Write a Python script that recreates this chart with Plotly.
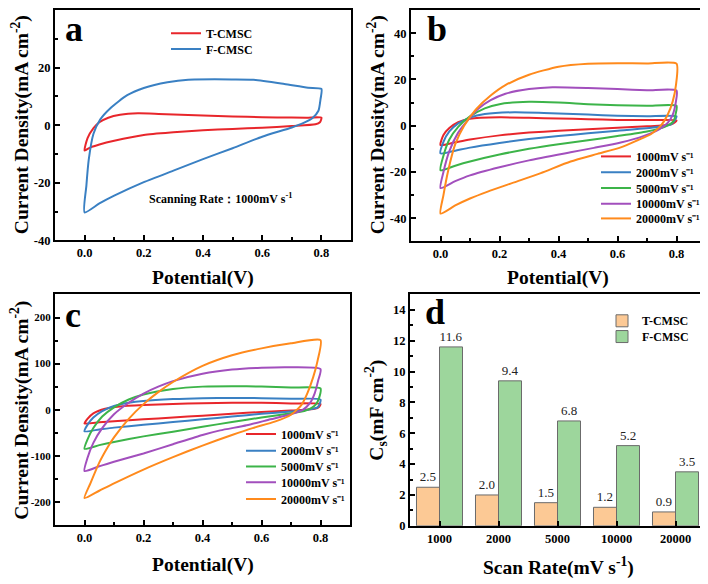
import plotly.graph_objects as go

# ---------------- DATA ----------------
# Panel a (scan rate 1000 mV/s): forward (upper) and reverse (lower) branches
a_T_fwd_v = [0.0, 0.01, 0.03, 0.05, 0.08, 0.12, 0.18, 0.25, 0.35, 0.45, 0.55, 0.65, 0.75, 0.8]
a_T_fwd_j = [-8.8, -4.5, -1.0, 1.0, 2.6, 3.6, 4.1, 3.9, 3.5, 3.2, 2.9, 2.7, 2.6, 2.6]
a_T_rev_v = [0.8, 0.795, 0.78, 0.7, 0.6, 0.5, 0.4, 0.3, 0.2, 0.1, 0.05, 0.02, 0.0]
a_T_rev_j = [2.6, 1.0, 0.3, -0.3, -0.9, -1.3, -1.8, -2.5, -3.4, -5.4, -6.7, -7.7, -8.8]

a_F_fwd_v = [0.0, 0.006, 0.014, 0.03, 0.053, 0.087, 0.144, 0.2, 0.28, 0.35, 0.5, 0.57, 0.675, 0.755, 0.8]
a_F_fwd_j = [-30.3, -21.0, -12.0, -3.0, 2.0, 5.9, 10.4, 12.9, 14.9, 15.8, 15.9, 15.8, 14.3, 13.0, 12.6]
a_F_rev_v = [0.8, 0.797, 0.79, 0.77, 0.74, 0.7, 0.6, 0.5, 0.4, 0.3, 0.2, 0.1, 0.05, 0.0]
a_F_rev_j = [12.6, 9.0, 5.0, 2.5, 0.8, -0.8, -4.0, -8.0, -11.8, -15.8, -19.8, -24.5, -27.2, -30.3]

# Panel b: F-CMSC at different scan rates
rate_names = ["1000mV s⁻¹", "2000mV s⁻¹", "5000mV s⁻¹", "10000mV s⁻¹", "20000mV s⁻¹"]
b_fwd_v = [
    [0.0, 0.01, 0.03, 0.06, 0.1, 0.2, 0.3, 0.4, 0.5, 0.6, 0.7, 0.8],
    [0.0, 0.01, 0.03, 0.06, 0.1, 0.15, 0.25, 0.35, 0.5, 0.6, 0.7, 0.8],
    [0.0, 0.01, 0.03, 0.06, 0.1, 0.15, 0.2, 0.3, 0.4, 0.5, 0.6, 0.7, 0.8],
    [0.0, 0.01, 0.03, 0.06, 0.1, 0.13, 0.17, 0.22, 0.3, 0.38, 0.5, 0.6, 0.7, 0.8],
    [0.0, 0.01, 0.025, 0.05, 0.08, 0.12, 0.17, 0.22, 0.3, 0.4, 0.5, 0.6, 0.7, 0.8],
]
b_fwd_j = [
    [-8.4, -4.0, -1.0, 1.5, 3.0, 3.6, 3.4, 3.1, 2.8, 2.5, 2.4, 2.3],
    [-12.0, -7.0, -2.5, 1.0, 3.5, 5.0, 5.8, 5.5, 4.8, 4.3, 4.1, 4.0],
    [-19.3, -13.0, -6.0, -0.5, 4.0, 7.5, 9.3, 10.3, 10.0, 9.3, 8.8, 8.6, 8.6],
    [-27.0, -20.0, -11.0, -3.0, 3.5, 7.5, 11.0, 13.8, 15.8, 16.6, 16.3, 15.8, 15.3, 15.2],
    [-38.0, -30.0, -20.0, -8.0, 0.0, 7.0, 13.0, 17.5, 22.0, 25.5, 26.8, 27.0, 26.9, 26.8],
]
b_rev_v = [
    [0.8, 0.795, 0.78, 0.7, 0.6, 0.5, 0.4, 0.3, 0.2, 0.1, 0.05, 0.0],
    [0.8, 0.795, 0.78, 0.72, 0.6, 0.5, 0.4, 0.3, 0.2, 0.1, 0.05, 0.0],
    [0.8, 0.797, 0.79, 0.76, 0.7, 0.6, 0.5, 0.4, 0.3, 0.2, 0.1, 0.05, 0.0],
    [0.8, 0.798, 0.787, 0.77, 0.741, 0.69, 0.611, 0.52, 0.441, 0.3, 0.2, 0.1, 0.05, 0.0],
    [0.8, 0.798, 0.787, 0.77, 0.747, 0.713, 0.668, 0.611, 0.532, 0.441, 0.34, 0.25, 0.16, 0.1, 0.05, 0.0],
]
b_rev_j = [
    [2.3, 1.5, 0.5, -0.3, -0.9, -1.5, -2.2, -3.0, -4.2, -6.0, -7.2, -8.4],
    [4.0, 2.5, 0.5, -0.8, -2.2, -3.3, -4.5, -5.8, -7.5, -9.5, -10.8, -12.0],
    [8.6, 5.0, 2.0, -0.5, -2.5, -4.5, -6.3, -8.0, -10.0, -12.5, -15.5, -17.3, -19.3],
    [15.2, 10.4, 4.7, 1.2, -1.6, -4.4, -7.3, -9.6, -11.5, -15.0, -18.0, -21.5, -24.0, -27.0],
    [26.8, 17.4, 10.4, 4.7, 0.0, -3.7, -6.3, -9.4, -12.2, -15.5, -20.5, -24.5, -28.5, -31.5, -34.5, -38.0],
]

# Panel c: T-CMSC at different scan rates
c_fwd_v = [
    [0.0, 0.01, 0.03, 0.07, 0.12, 0.2, 0.3, 0.4, 0.5, 0.6, 0.7, 0.8],
    [0.0, 0.01, 0.03, 0.06, 0.1, 0.15, 0.2, 0.3, 0.4, 0.5, 0.6, 0.7, 0.8],
    [0.0, 0.01, 0.03, 0.06, 0.1, 0.15, 0.2, 0.3, 0.4, 0.5, 0.6, 0.7, 0.8],
    [0.0, 0.01, 0.03, 0.06, 0.1, 0.15, 0.2, 0.25, 0.3, 0.4, 0.5, 0.6, 0.7, 0.8],
    [0.0, 0.02, 0.05, 0.08, 0.1, 0.15, 0.2, 0.25, 0.3, 0.4, 0.5, 0.6, 0.7, 0.8],
]
c_fwd_j = [
    [-30.0, -20.0, -8.0, 2.0, 7.0, 10.0, 12.5, 14.0, 15.0, 15.0, 13.5, 12.0],
    [-47.0, -33.0, -17.0, -3.0, 8.0, 15.0, 19.0, 23.0, 25.0, 25.5, 25.0, 23.5, 22.0],
    [-85.0, -65.0, -40.0, -15.0, 5.0, 22.0, 33.0, 45.0, 50.0, 51.0, 50.0, 48.0, 46.0],
    [-133.0, -105.0, -72.0, -40.0, -10.0, 15.0, 35.0, 50.0, 62.0, 78.0, 87.0, 91.0, 92.0, 88.0],
    [-192.0, -160.0, -115.0, -80.0, -60.0, -20.0, 12.0, 38.0, 60.0, 95.0, 118.0, 133.0, 144.0, 151.0],
]
c_rev_v = [
    [0.8, 0.795, 0.78, 0.7, 0.6, 0.5, 0.4, 0.3, 0.2, 0.1, 0.05, 0.0],
    [0.8, 0.797, 0.79, 0.75, 0.7, 0.6, 0.5, 0.4, 0.3, 0.2, 0.1, 0.05, 0.0],
    [0.8, 0.795, 0.785, 0.77, 0.745, 0.7, 0.6, 0.5, 0.4, 0.3, 0.2, 0.1, 0.05, 0.0],
    [0.8, 0.792, 0.78, 0.764, 0.741, 0.7, 0.63, 0.55, 0.46, 0.4, 0.3, 0.2, 0.1, 0.05, 0.0],
    [0.8, 0.79, 0.775, 0.755, 0.735, 0.7, 0.645, 0.57, 0.5, 0.4, 0.3, 0.2, 0.1, 0.05, 0.0],
]
c_rev_j = [
    [12.0, 6.0, 2.0, -2.0, -5.0, -9.0, -13.0, -17.0, -21.0, -25.0, -27.5, -30.0],
    [22.0, 12.0, 5.0, -1.0, -4.0, -9.0, -15.0, -21.0, -27.0, -33.0, -39.0, -43.0, -47.0],
    [46.0, 25.0, 12.0, 4.0, -3.0, -8.0, -17.0, -27.0, -37.0, -48.0, -58.0, -70.0, -77.0, -85.0],
    [88.0, 63.0, 35.0, 14.0, 0.0, -10.0, -21.0, -34.0, -45.0, -55.0, -75.0, -95.0, -113.0, -123.0, -133.0],
    [151.0, 106.0, 70.0, 35.0, 10.0, -11.0, -26.0, -40.0, -55.0, -78.0, -103.0, -130.0, -160.0, -176.0, -192.0],
]

# Panel d: specific capacitance
d_rates = ["1000", "2000", "5000", "10000", "20000"]
d_T = [2.5, 2.0, 1.5, 1.2, 0.9]
d_F = [11.6, 9.4, 6.8, 5.2, 3.5]

# Tick labels
x_tickvals = [0.0, 0.2, 0.4, 0.6, 0.8]
x_ticktext = ["0.0", "0.2", "0.4", "0.6", "0.8"]
ya_tickvals = [-40, -20, 0, 20, 40]
ya_ticktext = ["-40", "-20", "0", "20", "40"]
yb_tickvals = [-40, -20, 0, 20, 40]
yb_ticktext = ["-40", "-20", "0", "20", "40"]
yc_tickvals = [-200, -100, 0, 100, 200]
yc_ticktext = ["-200", "-100", "0", "100", "200"]
yd_tickvals = [0, 2, 4, 6, 8, 10, 12, 14]
yd_ticktext = ["0", "2", "4", "6", "8", "10", "12", "14"]

# ---------------- STYLE ----------------
# The page body has an 8px margin, so the figure is drawn 8px in from the window corner.
OFF = 8
W, H = 708 - OFF, 584 - OFF
SERIF = "Liberation Serif"
RED, BLUE, GREEN, PURPLE, ORANGE = "#e8262b", "#3a80c3", "#3cb449", "#a24fbd", "#ff8a1c"
rate_colors = [RED, BLUE, GREEN, PURPLE, ORANGE]


def px(x):
    return (x - OFF) / W


def py(y):
    return 1 - (y - OFF) / H


fig = go.Figure()
legend_layout = {}
legfont = dict(family=SERIF, size=12, color="black", weight="bold")
LEG_DX = 39
leg_counter = [0]


def new_legend(text_x, center_y, dy):
    leg_counter[0] += 1
    k = leg_counter[0]
    key = "legend" if k == 1 else f"legend{k}"
    legend_layout[key] = dict(x=px(text_x - LEG_DX), y=py(center_y - dy), xanchor="left",
                              yanchor="top", bgcolor="rgba(0,0,0,0)", font=legfont)
    return key


def loop(fv, fj, rv, rj):
    return list(fv) + list(rv[1:]), list(fj) + list(rj[1:])


# Panel a
for (name, col, fv, fj, rv, rj), cy in zip([
    ("T-CMSC", RED, a_T_fwd_v, a_T_fwd_j, a_T_rev_v, a_T_rev_j),
    ("F-CMSC", BLUE, a_F_fwd_v, a_F_fwd_j, a_F_rev_v, a_F_rev_j),
], [33, 49]):
    xs, ys = loop(fv, fj, rv, rj)
    fig.add_trace(go.Scatter(x=xs, y=ys, mode="lines", name=name,
                             line=dict(color=col, width=2, shape="spline", smoothing=0.6),
                             xaxis="x", yaxis="y", legend=new_legend(205, cy, 16)))

# Panel b
for i, cy in enumerate([156, 172, 188, 204, 219]):
    xs, ys = loop(b_fwd_v[i], b_fwd_j[i], b_rev_v[i], b_rev_j[i])
    fig.add_trace(go.Scatter(x=xs, y=ys, mode="lines", name=rate_names[i],
                             line=dict(color=rate_colors[i], width=2, shape="spline", smoothing=0.6),
                             xaxis="x2", yaxis="y2", legend=new_legend(635, cy, 14)))

# Panel c
for i, cy in enumerate([436, 453, 469, 485, 502]):
    xs, ys = loop(c_fwd_v[i], c_fwd_j[i], c_rev_v[i], c_rev_j[i])
    fig.add_trace(go.Scatter(x=xs, y=ys, mode="lines", name=rate_names[i],
                             line=dict(color=rate_colors[i], width=2, shape="spline", smoothing=0.6),
                             xaxis="x3", yaxis="y3", legend=new_legend(280, cy, 12)))

# Panel d
for (name, vals, col), cy in zip([("T-CMSC", d_T, "#fcc995"), ("F-CMSC", d_F, "#9dd69c")], [319, 335]):
    fig.add_trace(go.Bar(x=d_rates, y=vals, name=name,
                         marker=dict(color=col, line=dict(color="#6b6b6b", width=1)),
                         text=[f"{v:.1f}" for v in vals], textposition="outside", cliponaxis=False,
                         textfont=dict(family=SERIF, size=13, color="#222"),
                         xaxis="x4", yaxis="y4", legend=new_legend(641, cy, 10)))

tickfont = dict(family=SERIF, size=12.5, color="black", weight="bold")
base_ax = dict(showline=True, linecolor="black", linewidth=2, mirror=True, ticks="inside",
               ticklen=5, tickwidth=2, tickcolor="black", showgrid=False, zeroline=False,
               tickfont=tickfont)


def minor(d):
    return dict(ticks="inside", ticklen=3, tickwidth=1.5, tickcolor="black", tickmode="linear", tick0=0, dtick=d)


def xax(domain, anchor):
    return dict(base_ax, domain=domain, anchor=anchor, range=[-0.1, 0.9],
                tickmode="array", tickvals=x_tickvals, ticktext=x_ticktext, minor=minor(0.1))


def yax(domain, anchor, rng, tv, tt, md, fsize=12.5):
    return dict(base_ax, domain=domain, anchor=anchor, range=rng,
                tickmode="array", tickvals=tv, ticktext=tt, minor=minor(md),
                tickfont=dict(tickfont, size=fsize))


def clip(d):
    return [max(0.0, min(1.0, d[0])), max(0.0, min(1.0, d[1]))]


dom_a = ([px(55), px(351)], [py(242), py(5)])
dom_b = ([px(411), px(706)], [py(243), py(5)])
dom_c = ([px(55), px(350)], [py(531), py(297)])
dom_d = ([px(410), px(705)], [py(532), py(297)])

fig.update_layout(
    width=W, height=H, margin=dict(l=0, r=0, t=0, b=0),
    paper_bgcolor="white", plot_bgcolor="white",
    barmode="group", bargap=0.22, bargroupgap=0,
    xaxis=xax(clip(dom_a[0]), "y"), yaxis=yax(clip(dom_a[1]), "x", [-40, 40], ya_tickvals, ya_ticktext, 10),
    xaxis2=xax(clip(dom_b[0]), "y2"), yaxis2=yax(clip(dom_b[1]), "x2", [-50, 50], yb_tickvals, yb_ticktext, 10),
    xaxis3=xax(clip(dom_c[0]), "y3"),
    yaxis3=yax(clip(dom_c[1]), "x3", [-250, 250], yc_tickvals, yc_ticktext, 50, fsize=11),
    xaxis4=dict(base_ax, domain=clip(dom_d[0]), anchor="y4", type="category", range=[-0.5, 4.5]),
    yaxis4=yax(clip(dom_d[1]), "x4", [0, 15], yd_tickvals, yd_ticktext, 1),
    showlegend=True,
    **legend_layout,
)

titlefont = dict(family=SERIF, size=19.5, color="black", weight="bold")
ann = []
# x titles
for xc, yc, t in [(203, 280, "Potential(V)"), (558, 280, "Potential(V)"),
                  (203, 572, "Potential(V)"), (558, 573, "Scan Rate(mV s<sup>-1</sup>)")]:
    ann.append(dict(x=px(xc), y=py(yc), xref="paper", yref="paper", text=t, showarrow=False,
                    xanchor="center", yanchor="middle", font=titlefont))
# y titles
for xc, yc, t in [(20, 125, "Current Density(mA cm<sup>-2</sup>)"),
                  (376, 125, "Current Density(mA cm<sup>-2</sup>)"),
                  (20, 415, "Current Density(mA cm<sup>-2</sup>)"),
                  (376, 415, "C<sub>s</sub>(mF cm<sup>-2</sup>)")]:
    ann.append(dict(x=px(xc), y=py(yc), xref="paper", yref="paper", text=t, showarrow=False,
                    textangle=-90, xanchor="center", yanchor="middle", font=titlefont))
# panel letters
letterfont = dict(family=SERIF, size=36, color="black", weight="bold")
for xc, yc, t in [(74, 27, "a"), (437, 27, "b"), (73, 318, "c"), (435, 315, "d")]:
    ann.append(dict(x=px(xc), y=py(yc), xref="paper", yref="paper", text=t, showarrow=False,
                    xanchor="center", yanchor="middle", font=letterfont))
# scanning rate note
ann.append(dict(x=px(220), y=py(200), xref="paper", yref="paper",
                text="Scanning Rate：1000mV s<sup>-1</sup>", showarrow=False,
                xanchor="center", yanchor="middle",
                font=dict(family=SERIF, size=12, color="black", weight="bold")))
fig.update_layout(annotations=ann)

fig.write_html("out.html")
